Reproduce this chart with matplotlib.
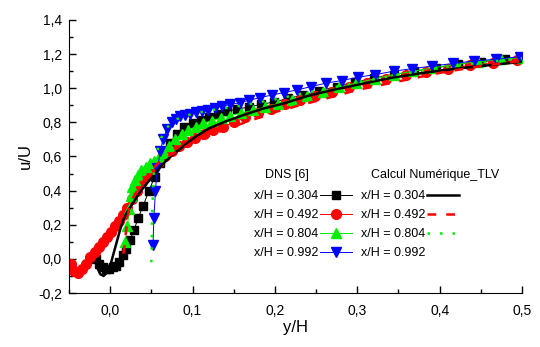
import matplotlib
matplotlib.use("Agg")
import matplotlib.pyplot as plt
import matplotlib.ticker as mticker
from matplotlib.lines import Line2D

plt.rcParams['font.family'] = ['Liberation Sans', 'DejaVu Sans']

# DNS [6]
dns_304_y = [-0.017, -0.013, -0.009, -0.005, -0.001, 0.003, 0.007, 0.011, 0.015, 0.019, 0.024, 0.029,
             0.034, 0.040, 0.047, 0.054, 0.060, 0.066, 0.073, 0.081, 0.090, 0.100, 0.110, 0.120, 0.131,
             0.142, 0.154, 0.168, 0.183, 0.199, 0.216, 0.234, 0.254, 0.275, 0.297, 0.320, 0.344, 0.369,
             0.395, 0.422, 0.450, 0.479, 0.500]
dns_304_u = [0.0, -0.03, -0.05, -0.06, -0.06, -0.05, -0.04, -0.02, 0.02, 0.06, 0.11, 0.17,
             0.24, 0.31, 0.40, 0.48, 0.56, 0.62, 0.68, 0.73, 0.77, 0.795, 0.815, 0.83, 0.85,
             0.865, 0.877, 0.89, 0.905, 0.92, 0.94, 0.96, 0.985, 1.01, 1.035, 1.06, 1.08, 1.10,
             1.12, 1.14, 1.155, 1.17, 1.175]

dns_492_y = [-0.048, -0.044, -0.039, -0.034, -0.029, -0.024, -0.019, -0.014, -0.009, -0.004, 0.001,
             0.006, 0.011, 0.016, 0.021, 0.027, 0.033, 0.039, 0.045, 0.052, 0.059, 0.067, 0.075,
             0.084, 0.093, 0.103, 0.114, 0.125, 0.137, 0.150, 0.164, 0.179, 0.195, 0.212, 0.230,
             0.249, 0.269, 0.290, 0.312, 0.335, 0.359, 0.384, 0.410, 0.437, 0.465, 0.494]
dns_492_u = [-0.03, -0.07, -0.08, -0.06, -0.03, 0.01, 0.04, 0.07, 0.10, 0.13, 0.16,
             0.19, 0.22, 0.26, 0.30, 0.35, 0.40, 0.45, 0.49, 0.53, 0.57, 0.60, 0.63,
             0.66, 0.685, 0.71, 0.73, 0.755, 0.775, 0.80, 0.83, 0.855, 0.88, 0.905, 0.93,
             0.955, 0.98, 1.005, 1.03, 1.055, 1.075, 1.095, 1.115, 1.135, 1.15, 1.165]

dns_804_y = [0.018, 0.021, 0.023, 0.025, 0.027, 0.030, 0.034, 0.038, 0.043, 0.048, 0.053, 0.059,
             0.065, 0.072, 0.079, 0.087, 0.095, 0.104, 0.113, 0.123, 0.134, 0.146, 0.159, 0.173,
             0.188, 0.204, 0.221, 0.239, 0.258, 0.278, 0.299, 0.321, 0.344, 0.368, 0.393, 0.419,
             0.446, 0.474, 0.500]
dns_804_u = [0.10, 0.19, 0.29, 0.37, 0.42, 0.46, 0.49, 0.52, 0.54, 0.56, 0.575, 0.595,
             0.62, 0.66, 0.70, 0.73, 0.755, 0.775, 0.795, 0.81, 0.825, 0.84, 0.855, 0.87,
             0.89, 0.91, 0.93, 0.955, 0.98, 1.005, 1.03, 1.055, 1.08, 1.10, 1.12, 1.14,
             1.155, 1.17, 1.18]

dns_992_y = [0.052, 0.053, 0.055, 0.057, 0.061, 0.064, 0.069, 0.075, 0.080, 0.085, 0.091, 0.097,
             0.104, 0.111, 0.119, 0.127, 0.136, 0.146, 0.157, 0.169, 0.182, 0.196, 0.211, 0.227,
             0.244, 0.262, 0.281, 0.301, 0.322, 0.344, 0.367, 0.391, 0.416, 0.442, 0.469, 0.497]
dns_992_u = [0.08, 0.24, 0.40, 0.53, 0.63, 0.70, 0.76, 0.80, 0.82, 0.835, 0.845, 0.85,
             0.86, 0.865, 0.875, 0.885, 0.895, 0.905, 0.915, 0.93, 0.945, 0.96, 0.975, 0.99,
             1.01, 1.03, 1.045, 1.065, 1.08, 1.10, 1.115, 1.13, 1.145, 1.16, 1.17, 1.185]

# Calcul Numerique_TLV
tlv_304_y = [-0.016, -0.012, -0.008, -0.004, 0.0, 0.004, 0.008, 0.012, 0.016, 0.020, 0.028, 0.036,
             0.044, 0.053, 0.061, 0.069, 0.077, 0.085, 0.095, 0.105, 0.120, 0.140, 0.160, 0.185,
             0.210, 0.240, 0.270, 0.300, 0.340, 0.380, 0.420, 0.460, 0.500]
tlv_304_u = [-0.05, -0.09, -0.10, -0.08, -0.04, 0.03, 0.10, 0.17, 0.23, 0.27, 0.33, 0.39,
             0.44, 0.49, 0.54, 0.58, 0.615, 0.645, 0.685, 0.72, 0.765, 0.805, 0.84, 0.88,
             0.91, 0.955, 0.99, 1.02, 1.06, 1.09, 1.115, 1.135, 1.155]

tlv_492_y = [0.016, 0.018, 0.020, 0.023, 0.028, 0.034, 0.042, 0.050, 0.060, 0.070, 0.085, 0.100,
             0.120, 0.140, 0.170, 0.200, 0.230, 0.270, 0.300, 0.350, 0.400, 0.450, 0.500]
tlv_492_u = [0.03, 0.10, 0.20, 0.30, 0.36, 0.41, 0.47, 0.52, 0.57, 0.60, 0.64, 0.68,
             0.72, 0.76, 0.81, 0.86, 0.90, 0.95, 0.99, 1.04, 1.09, 1.13, 1.16]

tlv_804_y = [0.050, 0.0505, 0.051, 0.052, 0.053, 0.055, 0.058, 0.062, 0.067, 0.075, 0.085, 0.100,
             0.120, 0.150, 0.200, 0.250, 0.300, 0.350, 0.400, 0.450, 0.500]
tlv_804_u = [-0.02, 0.10, 0.25, 0.40, 0.50, 0.58, 0.65, 0.71, 0.76, 0.80, 0.83, 0.85,
             0.87, 0.89, 0.935, 0.985, 1.035, 1.08, 1.12, 1.15, 1.175]

labels = ['x/H = 0.304', 'x/H = 0.492', 'x/H = 0.804', 'x/H = 0.992']

fig = plt.figure(figsize=(5.4, 3.47), dpi=100)
ax = fig.add_axes([0.1278, 0.1556, 0.8389, 0.7868])

d1, = ax.plot(dns_304_y, dns_304_u, color='black', lw=0.7, marker='s', ms=5.5)
d2, = ax.plot(dns_492_y, dns_492_u, color='red', lw=0.7, marker='o', ms=7)
d3, = ax.plot(dns_804_y, dns_804_u, color='#00ee00', lw=0.7, marker='^', ms=6.5)
d4, = ax.plot(dns_992_y, dns_992_u, color='blue', lw=0.7, marker='v', ms=6.5)

t1, = ax.plot(tlv_304_y, tlv_304_u, color='black', lw=1.8)
t2, = ax.plot(tlv_492_y, tlv_492_u, color='red', lw=1.8, dashes=(3.5, 4))
t3, = ax.plot(tlv_804_y, tlv_804_u, color='#00ee00', lw=1.8, dashes=(1, 4))
t4 = Line2D([], [], color='none')

ax.set_xlim(-0.05, 0.5)
ax.set_ylim(-0.2, 1.4)
ax.spines['top'].set_visible(False)
ax.spines['right'].set_visible(False)
ax.xaxis.set_major_locator(mticker.MultipleLocator(0.1))
ax.xaxis.set_minor_locator(mticker.MultipleLocator(0.05))
ax.yaxis.set_major_locator(mticker.MultipleLocator(0.2))
ax.yaxis.set_minor_locator(mticker.MultipleLocator(0.1))
fmt = mticker.FuncFormatter(lambda v, p: ('%.1f' % v).replace('.', ',').replace('-0,0', '0,0'))
ax.xaxis.set_major_formatter(fmt)
ax.yaxis.set_major_formatter(fmt)
ax.tick_params(axis='y', which='major', direction='in', length=5, width=1, labelsize=10, pad=5)
ax.tick_params(axis='x', which='major', direction='in', length=5, width=1, labelsize=10, pad=8)
ax.tick_params(which='minor', direction='in', length=3, width=1)
ax.set_xlabel('y/H', fontsize=12, labelpad=1)
ax.set_ylabel('u/U', fontsize=12, labelpad=4)

fig.legend([d1, d2, d3, d4], labels, loc='upper left', bbox_to_anchor=(248 / 540, 1 - 184 / 347),
           frameon=False, markerfirst=False, fontsize=9, borderpad=0, handlelength=2.6,
           handletextpad=0.1, labelspacing=0.55)
fig.legend([t1, t2, t3, t4], labels, loc='upper left', bbox_to_anchor=(355 / 540, 1 - 184 / 347),
           frameon=False, markerfirst=False, fontsize=9, borderpad=0, handlelength=2.6,
           handletextpad=0.1, labelspacing=0.55)
fig.text(287 / 540, 1 - 175 / 347, 'DNS [6]', fontsize=9, ha='center', va='center')
fig.text(435 / 540, 1 - 175 / 347, 'Calcul Numérique_TLV', fontsize=9, ha='center', va='center')

fig.savefig('out.png', dpi=100)
